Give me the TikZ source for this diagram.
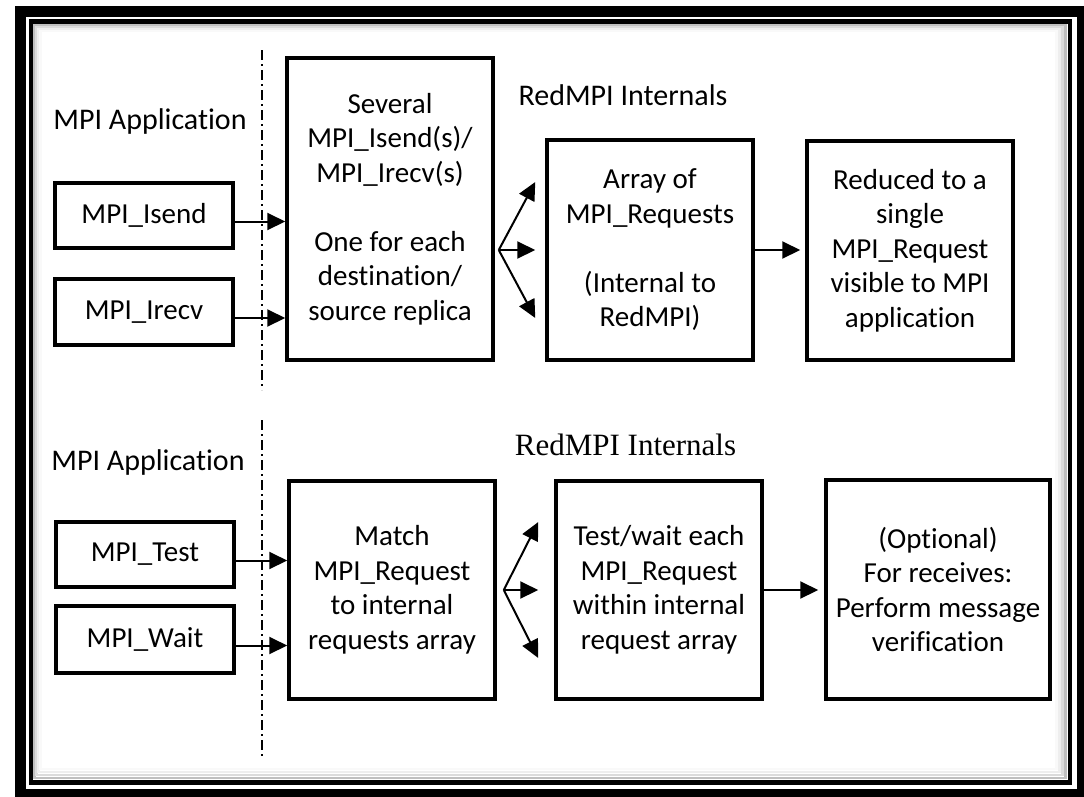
\documentclass[tikz,border=0pt]{standalone}
\usepackage{fontspec}
\setmainfont{Carlito}[Ligatures=NoCommon]
\newfontfamily\timesfont{Liberation Serif}
\usetikzlibrary{arrows.meta,calc}
\usetikzlibrary{positioning}
\tikzset{blk/.style={draw,line width=3.5pt,inner sep=0pt,align=center,font=\fontsize{29}{34.5}\selectfont},
  callbox/.style={blk,minimum width=178pt,minimum height=66pt},
  stagebox/.style={blk,minimum width=206pt,minimum height=219pt},
  lbl/.style={anchor=base,font=\fontsize{30}{36}\selectfont},
  flow/.style={-{Triangle[length=18pt,width=17pt]},line width=2pt},
  divider/.style={line width=2.5pt,dash pattern=on 10pt off 4pt on 2pt off 4pt}}

\begin{document}
\begin{tikzpicture}[x=1pt,y=-1pt,line join=miter]
\useasboundingbox (0,0) rectangle (1084,796);
% --- frame with inner shadow
\draw[line width=11pt] (20.5,11) rectangle (1082.5,794.5);
\draw[line width=4.5pt] (31,21.5) rectangle (1070,782.5);
\foreach \d/\e/\c in {3.5/4.5/50,5.5/7.5/28,7.5/10.5/13,9.5/13.5/5}
  \draw[gray!\c,line width=2.2pt] ({31+\d},{21.5+\d}) rectangle ({1070-\e},{782.5-\e});
\draw[divider] (262,50) -- (262,390);
\draw[divider] (262,420) -- (262,757);

% --- top: non-blocking send / receive
\node[lbl] (app1) at (150,129) {MPI Application};
\node[lbl] (int1) at (623,105) {RedMPI Internals};
\node[callbox,minimum height=65pt] (isend) at (144,215.5) {MPI\_Isend};
\node[callbox] (irecv) at (144,312) {MPI\_Irecv};
\node[blk,minimum width=206pt,minimum height=302pt] (several) at (390,209) {Several\\MPI\_Isend(s)/\\MPI\_Irecv(s)\\[\baselineskip]One for each\\destination/\\source replica};
\node[stagebox,minimum height=220pt] (array) at (650,250) {Array of\\MPI\_Requests\\[\baselineskip](Internal to\\RedMPI)};
\node[stagebox] (reduced) at (910,250.5) {Reduced to a\\single\\MPI\_Request\\visible to MPI\\application};
\draw[flow] ([yshift=-6pt]isend.east) -- ($(isend.east -| several.west)+(0,6)$);
\draw[flow] ([yshift=-6pt]irecv.east) -- ($(irecv.east -| several.west)+(0,6)$);
\coordinate (fan1) at ($(several.east |- array.west)+(4,0)$);
\foreach \dy in {68,0,-68} \draw[flow] (fan1) -- ([xshift=-10pt,yshift=\dy pt]array.west);
\draw[flow] (array.east) -- ($(array.east -| reduced.west)+(-5,0)$);

% --- bottom: test / wait
\node[lbl] (app2) at (148,470) {MPI Application};
\node[lbl,font=\timesfont\fontsize{31}{36}\selectfont] (int2) at (625.5,455) {RedMPI Internals};
\node[callbox,minimum height=65pt] (test) at (145,554.5) {MPI\_Test};
\node[callbox,minimum height=67pt] (wait) at (145,639.5) {MPI\_Wait};
\node[stagebox,minimum height=218pt] (match) at (392,590) {Match\\MPI\_Request\\to internal\\requests array};
\node[stagebox,minimum height=218pt] (testwait) at (659,590) {Test/wait each\\MPI\_Request\\within internal\\request array};
\node[stagebox,minimum width=224pt] (optional) at (938,589.5) {(Optional)\\For receives:\\Perform message\\verification};
\draw[flow] ([yshift=-6pt]test.east) -- ($(test.east -| match.west)+(0,6)$);
\draw[flow] ([yshift=-6pt]wait.east) -- ($(wait.east -| match.west)+(0,6)$);
\coordinate (fan2) at ($(match.east)+(7,0)$);
\foreach \dy in {68,0,-68} \draw[flow] (fan2) -- ([xshift=-16pt,yshift=\dy pt]testwait.west);
\draw[flow] (testwait.east) -- ($(testwait.east -| optional.west)+(-6,0)$);
\end{tikzpicture}
\end{document}
